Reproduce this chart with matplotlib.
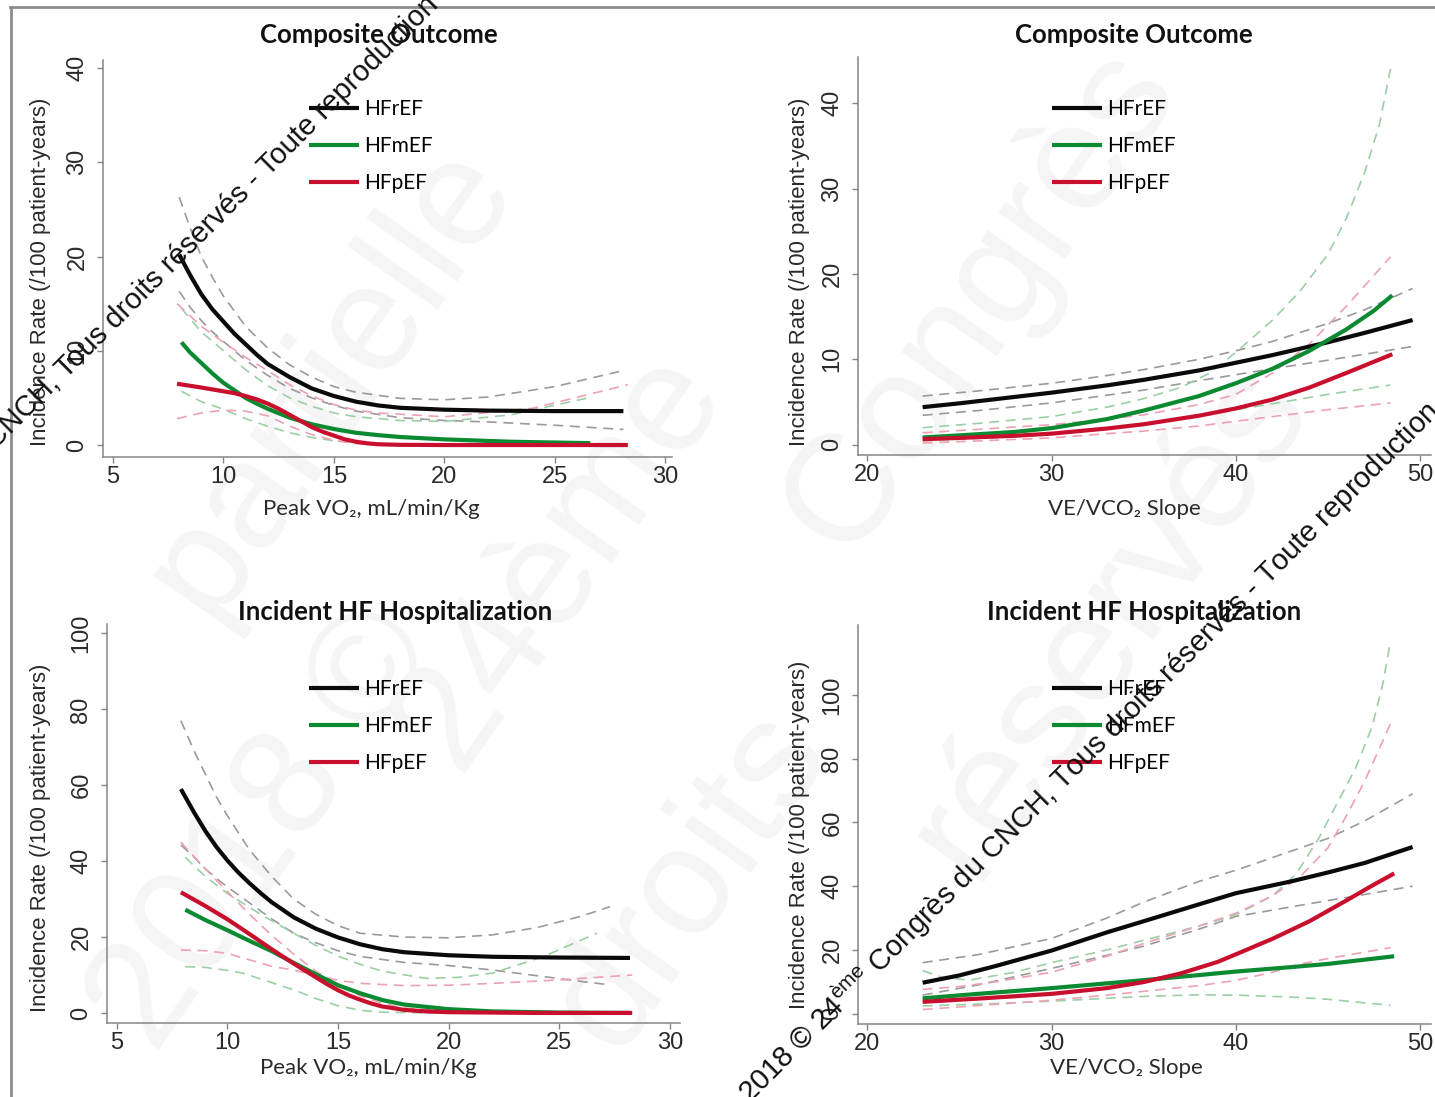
import matplotlib
matplotlib.use("Agg")
import matplotlib.pyplot as plt
from matplotlib.lines import Line2D

plt.rcParams['mathtext.fontset'] = 'custom'
plt.rcParams['mathtext.rm'] = 'Liberation Sans'

# ---- data ----
groups = ["HFrEF", "HFmEF", "HFpEF"]

# panel 1 : composite outcome vs peak VO2
p1_ref_x = [8.0, 8.5, 9, 9.5, 10, 10.5, 11, 11.5, 12, 13, 14, 15, 16, 17, 18, 20, 22, 25, 28.1]
p1_ref_y = [20.2, 18.0, 16.0, 14.4, 13.1, 11.8, 10.7, 9.6, 8.6, 7.2, 6.0, 5.2, 4.6, 4.2, 3.95, 3.75, 3.65, 3.6, 3.6]
p1_mid_x = [8.1, 8.5, 9, 9.5, 10, 10.5, 11, 11.5, 12, 13, 14, 15, 16, 17, 18, 20, 23, 26.6]
p1_mid_y = [10.9, 9.8, 8.7, 7.6, 6.6, 5.8, 5.0, 4.4, 3.85, 2.9, 2.2, 1.7, 1.3, 1.05, 0.85, 0.6, 0.35, 0.2]
p1_pef_x = [7.9, 9, 10, 10.5, 11, 11.5, 12, 12.5, 13, 13.5, 14, 14.5, 15, 15.5, 16, 16.5, 17, 18, 20, 28.3]
p1_pef_y = [6.5, 6.1, 5.7, 5.5, 5.2, 4.85, 4.4, 3.85, 3.2, 2.55, 1.9, 1.4, 1.0, 0.6, 0.35, 0.18, 0.08, 0.02, 0.0, 0.0]

p1_ref_ci_x = [8.0, 8.5, 9, 9.5, 10, 11, 12, 13, 14, 15, 16, 18, 20, 22, 25, 28.1]
p1_ref_hi = [26.3, 23.0, 20.0, 17.8, 15.8, 12.6, 10.3, 8.5, 7.2, 6.2, 5.6, 4.95, 4.8, 5.1, 6.2, 7.9]
p1_ref_lo = [16.3, 14.6, 13.2, 12.0, 11.0, 9.0, 7.4, 6.0, 5.0, 4.2, 3.6, 2.9, 2.6, 2.45, 2.1, 1.65]
p1_mid_ci_x = [8.1, 9, 10, 11, 12, 13, 14, 15, 16, 18, 20, 23, 26.7]
p1_mid_hi = [14.5, 12.0, 10.0, 8.0, 6.3, 5.0, 4.1, 3.4, 3.0, 2.6, 2.5, 3.2, 5.1]
p1_mid_lo = [5.7, 4.6, 3.8, 2.8, 2.0, 1.3, 0.8, 0.45, 0.25, 0.1, 0.05, 0.0, 0.0]
p1_pef_ci_x = [7.9, 9, 10, 11, 12, 13, 14, 15, 16, 17, 20, 24, 28.3]
p1_pef_hi = [15.0, 12.6, 10.9, 9.3, 7.9, 6.4, 5.2, 4.3, 3.7, 3.4, 3.0, 3.9, 6.4]
p1_pef_lo = [2.8, 3.4, 3.7, 3.6, 3.1, 2.0, 1.1, 0.5, 0.15, 0.0, 0.0, 0.0, 0.0]

# panel 2 : composite outcome vs VE/VCO2 slope
p2_ref_x = [23, 25, 28, 30, 33, 35, 38, 40, 42, 45, 47, 49.6]
p2_ref_y = [4.4, 4.85, 5.6, 6.1, 6.95, 7.6, 8.7, 9.6, 10.5, 12.0, 13.1, 14.6]
p2_mid_x = [23, 25, 28, 30, 33, 35, 38, 40, 42, 44, 46, 47.5, 48.5]
p2_mid_y = [0.85, 1.1, 1.5, 1.95, 3.0, 4.0, 5.7, 7.2, 8.9, 11.0, 13.5, 15.7, 17.5]
p2_pef_x = [23, 25, 28, 30, 33, 35, 38, 40, 42, 44, 46, 48.5]
p2_pef_y = [0.65, 0.8, 1.05, 1.3, 1.9, 2.4, 3.4, 4.25, 5.3, 6.7, 8.4, 10.6]

p2_ref_ci_x = [23, 26, 30, 33, 35, 38, 40, 42, 45, 47, 49.6]
p2_ref_hi = [5.7, 6.3, 7.2, 8.1, 8.8, 10.0, 11.0, 12.1, 14.2, 15.8, 18.3]
p2_ref_lo = [3.45, 4.0, 4.9, 5.8, 6.4, 7.5, 8.2, 8.9, 9.9, 10.6, 11.5]
p2_mid_hi_x = [23, 26, 30, 33, 35, 37, 38.5, 40, 42, 43.5, 45, 46, 47, 47.8, 48.4]
p2_mid_hi = [2.0, 2.5, 3.3, 4.4, 5.4, 6.7, 8.3, 10.8, 14.6, 18.0, 22.3, 26.5, 31.9, 37.5, 44.0]
p2_mid_lo_x = [23, 26, 30, 33, 35, 38, 40, 42, 45, 48.4]
p2_mid_lo = [0.45, 0.75, 1.2, 1.9, 2.4, 3.4, 4.1, 4.8, 5.9, 7.0]
p2_pef_hi_x = [23, 26, 30, 33, 35, 38, 40, 42, 44, 46, 48.4]
p2_pef_hi = [1.4, 1.8, 2.35, 3.0, 3.5, 4.7, 5.9, 8.4, 11.8, 16.2, 22.0]
p2_pef_lo_x = [23, 26, 30, 33, 35, 38, 40, 42, 45, 48.4]
p2_pef_lo = [0.2, 0.45, 0.8, 1.3, 1.6, 2.2, 2.75, 3.3, 4.1, 4.9]

# panel 3 : HF hospitalization vs peak VO2
p3_ref_x = [7.9, 8.5, 9, 9.5, 10, 10.5, 11, 11.5, 12, 13, 14, 15, 16, 17, 18, 20, 22, 25, 28.2]
p3_ref_y = [59.0, 52.8, 48.0, 43.8, 40.2, 37.0, 34.2, 31.6, 29.2, 25.2, 22.2, 19.9, 18.1, 16.8, 16.0, 15.2, 14.8, 14.6, 14.5]
p3_mid_x = [8.1, 9, 10, 11, 12, 13, 14, 15, 16, 17, 18, 20, 22, 25, 28.2]
p3_mid_y = [27.2, 24.5, 21.8, 19.0, 16.3, 13.2, 10.2, 7.3, 5.2, 3.4, 2.2, 1.0, 0.4, 0.1, 0.0]
p3_pef_x = [7.9, 9, 10, 11, 12, 13, 14, 14.5, 15, 15.5, 16, 16.5, 17, 18, 19, 20, 24, 28.3]
p3_pef_y = [31.8, 28.2, 24.7, 20.8, 16.8, 13.0, 9.4, 7.6, 6.0, 4.6, 3.5, 2.5, 1.7, 0.8, 0.4, 0.2, 0.0, 0.0]

p3_ref_ci_x = [7.9, 8.5, 9, 9.5, 10, 11, 12, 13, 14, 15, 16, 18, 20, 22, 24, 26, 27.3]
p3_ref_hi = [77, 69, 63, 57, 52, 43, 36, 30, 26, 23, 21, 20, 19.8, 20.6, 22.5, 25.5, 28.0]
p3_ref_lo = [44.3, 41.0, 38.0, 35.5, 33.2, 29.0, 24.8, 21.0, 18.5, 16.4, 14.9, 13.3, 12.5, 11.3, 9.8, 8.3, 7.4]
p3_mid_hi_x = [8.1, 9, 10, 11, 12, 13, 14, 15, 16, 17, 19, 20.5, 22, 24.3, 26.7]
p3_mid_hi = [41.0, 36.0, 31.5, 27.8, 24.3, 21.0, 17.8, 15.0, 12.8, 11.0, 9.1, 9.4, 10.5, 14.9, 21.0]
p3_mid_lo_x = [8.1, 9, 10, 10.7, 12, 13, 14, 15, 16, 17, 19, 26.7]
p3_mid_lo = [12.2, 12.0, 11.2, 10.5, 8.0, 6.1, 3.8, 1.9, 0.7, 0.2, 0.0, 0.0]
p3_pef_a_x = [7.9, 9, 10, 11, 12, 13, 14, 15, 16, 18, 20, 22, 25, 28.3]
p3_pef_a = [16.6, 16.4, 15.7, 14.0, 12.3, 11.3, 9.9, 8.6, 7.8, 7.2, 7.3, 7.8, 8.7, 10.0]
p3_pef_b_x = [7.9, 9, 10, 11, 12, 13, 14, 15, 16, 17, 18, 20, 24, 28.3]
p3_pef_b = [45, 38, 32, 26, 20.5, 15.5, 11, 7.5, 4.5, 2.5, 1.3, 0.5, 0.1, 0.0]

# panel 4 : HF hospitalization vs VE/VCO2 slope
p4_ref_x = [23, 25, 27, 30, 33, 35, 38, 40, 43, 45, 47, 49.6]
p4_ref_y = [9.7, 12.0, 15.0, 19.8, 25.5, 29.0, 34.3, 37.8, 41.5, 44.3, 47.3, 52.3]
p4_mid_x = [23, 26, 30, 33, 35, 38, 40, 43, 45, 48.6]
p4_mid_y = [4.8, 6.2, 8.0, 9.5, 10.5, 12.1, 13.2, 14.6, 15.6, 18.0]
p4_pef_x = [23, 26, 30, 33, 35, 37, 39, 40, 42, 44, 46, 47.5, 48.6]
p4_pef_y = [3.7, 4.7, 6.2, 8.0, 9.9, 12.6, 16.2, 18.6, 23.5, 29.0, 35.5, 40.5, 44.0]

p4_ref_ci_x = [23, 26, 30, 33, 35, 38, 40, 43, 45, 47, 49.6]
p4_ref_hi = [16.0, 18.5, 23.6, 30.0, 35.0, 41.5, 45.0, 51.0, 55.0, 60.5, 69.0]
p4_ref_lo = [5.8, 9.0, 14.2, 18.3, 21.2, 26.5, 30.5, 33.5, 35.5, 37.4, 40.0]
p4_mid_hi_x = [23, 24, 25.5, 28, 30, 33, 35, 38, 40, 42, 43.3, 44.5, 45.5, 46.5, 47.4, 48.0, 48.4]
p4_mid_hi = [13.5, 11.5, 10.5, 13.0, 16.0, 20.0, 23.0, 27.5, 31.0, 37.0, 44.0, 55.0, 66.0, 77.0, 90.0, 104.0, 117.0]
p4_mid_lo_x = [23, 27, 30, 33, 35, 38, 40, 43, 45, 48.4]
p4_mid_lo = [2.4, 3.2, 3.9, 4.8, 5.4, 5.9, 5.8, 5.2, 4.5, 2.6]
p4_pef_hi_x = [23, 25, 27, 30, 33, 35, 38, 40, 42, 43.5, 45, 46, 47, 48.4]
p4_pef_hi = [7.6, 8.5, 10.0, 13.0, 18.0, 22.0, 27.5, 31.5, 37.0, 43.0, 52.0, 62.0, 73.0, 91.0]
p4_pef_lo_x = [23, 26, 30, 33, 35, 38, 40, 42, 43.3, 45, 48.4]
p4_pef_lo = [1.3, 2.5, 4.2, 5.8, 7.0, 8.8, 10.4, 13.0, 15.3, 17.3, 20.7]

titles = ["Composite Outcome", "Composite Outcome",
          "Incident HF Hospitalization", "Incident HF Hospitalization"]
xlabels = ["Peak VO\u2082, mL/min/Kg", "VE/VCO\u2082 Slope",
           "Peak VO\u2082, mL/min/Kg", "VE/VCO\u2082 Slope"]
ylabel = "Incidence Rate (/100 patient-years)"
vo2_ticks = [5, 10, 15, 20, 25, 30]
slope_ticks = [20, 30, 40, 50]
comp_yticks = [0, 10, 20, 30, 40]
hosp_yticks = [0, 20, 40, 60, 80, 100]

# ---- styling ----
W, H = 1435, 1097
main_col = ["#0a0a0a", "#0b8a32", "#c8102e"]
ci_col = ["#9a9a9a", "#9ccfa6", "#eea1b3"]
spine_col = "#858585"
tick_font = "Liberation Sans"
calib = ["Lato", "DejaVu Sans"]

fig = plt.figure(figsize=(W / 100, H / 100), dpi=100)

# pixel boxes: left, top, right, bottom
boxes = [(103, 60, 672, 457), (858, 57, 1431, 455),
         (107, 624, 680, 1023), (858, 625, 1431, 1024)]
xlims = [(4.55, 30.3), (19.49, 50.6), (4.56, 30.46), (19.49, 50.6)]
ylims = [(-1.27, 40.85), (-1.2, 45.4), (-2.65, 102.5), (-3.26, 122)]
title_pos = [(379, 35), (1134, 35), (395, 612), (1144, 612)]
xlab_pos = [(371, 509), (1124, 509), (368, 1068), (1126, 1068)]
ylab_pos = [(41, 272), (800, 272), (41, 838), (800, 835)]
leg_pos = [(309, 99), (1052, 99), (309, 679), (1052, 679)]

mains = [
    [(p1_ref_x, p1_ref_y), (p1_mid_x, p1_mid_y), (p1_pef_x, p1_pef_y)],
    [(p2_ref_x, p2_ref_y), (p2_mid_x, p2_mid_y), (p2_pef_x, p2_pef_y)],
    [(p3_ref_x, p3_ref_y), (p3_mid_x, p3_mid_y), (p3_pef_x, p3_pef_y)],
    [(p4_ref_x, p4_ref_y), (p4_mid_x, p4_mid_y), (p4_pef_x, p4_pef_y)],
]
bands = [
    [(p1_ref_ci_x, p1_ref_hi, 0), (p1_ref_ci_x, p1_ref_lo, 0),
     (p1_mid_ci_x, p1_mid_hi, 1), (p1_mid_ci_x, p1_mid_lo, 1),
     (p1_pef_ci_x, p1_pef_hi, 2), (p1_pef_ci_x, p1_pef_lo, 2)],
    [(p2_ref_ci_x, p2_ref_hi, 0), (p2_ref_ci_x, p2_ref_lo, 0),
     (p2_mid_hi_x, p2_mid_hi, 1), (p2_mid_lo_x, p2_mid_lo, 1),
     (p2_pef_hi_x, p2_pef_hi, 2), (p2_pef_lo_x, p2_pef_lo, 2)],
    [(p3_ref_ci_x, p3_ref_hi, 0), (p3_ref_ci_x, p3_ref_lo, 0),
     (p3_mid_hi_x, p3_mid_hi, 1), (p3_mid_lo_x, p3_mid_lo, 1),
     (p3_pef_a_x, p3_pef_a, 2), (p3_pef_b_x, p3_pef_b, 2)],
    [(p4_ref_ci_x, p4_ref_hi, 0), (p4_ref_ci_x, p4_ref_lo, 0),
     (p4_mid_hi_x, p4_mid_hi, 1), (p4_mid_lo_x, p4_mid_lo, 1),
     (p4_pef_hi_x, p4_pef_hi, 2), (p4_pef_lo_x, p4_pef_lo, 2)],
]

# faint background watermark (very light, behind everything)
faint = [("partielle", 330, 380), ("Congrès", 980, 300),
         ("réservés", 1110, 620), ("24ème", 560, 560),
         ("droits", 690, 880), ("2018 ©", 265, 830)]
for word, px, py in faint:
    fig.text(px / W, 1 - py / H, word, fontsize=110, color="#f5f5f5",
             rotation=55, ha="center", va="center", family="Liberation Sans",
             zorder=-5)

for i in range(4):
    l, t, r, b = boxes[i]
    ax = fig.add_axes([l / W, 1 - b / H, (r - l) / W, (b - t) / H])
    ax.set_facecolor("none")

    def fx(px, l=l, r=r):
        return (px - l) / (r - l)

    def fy(py, t=t, b=b):
        return (b - py) / (b - t)

    for xs, ys, c in bands[i]:
        ax.plot(xs, ys, color=ci_col[c], lw=1.2, dashes=(6, 4), zorder=2)
    handles = []
    for k, (xs, ys) in enumerate(mains[i]):
        ln, = ax.plot(xs, ys, color=main_col[k], lw=3.0, zorder=3,
                      solid_capstyle="butt", solid_joinstyle="round")
        handles.append(ln)

    ax.set_xlim(*xlims[i])
    ax.set_ylim(*ylims[i])
    ax.set_xticks(vo2_ticks if i % 2 == 0 else slope_ticks)
    ax.set_yticks(comp_yticks if i < 2 else hosp_yticks)
    for s in ["top", "right"]:
        ax.spines[s].set_visible(False)
    for s in ["left", "bottom"]:
        ax.spines[s].set_color(spine_col)
        ax.spines[s].set_linewidth(1.1)
    ax.tick_params(axis="both", direction="out", length=4.5, width=1.0,
                   color=spine_col, labelcolor="#2a2a2a", labelsize=17)
    ax.tick_params(axis="y", pad=6)
    ax.tick_params(axis="x", pad=2)
    for lab in ax.get_xticklabels() + ax.get_yticklabels():
        lab.set_family(tick_font)
    for lab in ax.get_yticklabels():
        lab.set_rotation(90)
        lab.set_va("center")

    ax.set_xlabel(xlabels[i], family=calib, fontsize=16, color="#2a2a2a",
                  va="center", ha="center")
    ax.xaxis.set_label_coords(fx(xlab_pos[i][0]), fy(xlab_pos[i][1]))
    ax.set_ylabel(ylabel, family=tick_font, fontsize=16, color="#2a2a2a",
                  va="center", ha="center")
    ax.yaxis.set_label_coords(fx(ylab_pos[i][0]), fy(ylab_pos[i][1]))

    fig.text(title_pos[i][0] / W, 1 - title_pos[i][1] / H, titles[i],
             family=calib, fontweight="bold", fontsize=18.5, color="#111111",
             ha="center", va="center")

    ax.legend(handles, groups, loc="upper left",
              bbox_to_anchor=(fx(leg_pos[i][0]), fy(leg_pos[i][1])),
              frameon=False, borderpad=0, borderaxespad=0,
              handlelength=2.4, handletextpad=0.25, labelspacing=0.82,
              prop={"family": calib, "size": 15})

# outer frame of the slide
fig.add_artist(Line2D([10 / W, 1], [1 - 7 / H, 1 - 7 / H], color="#8c8c8c",
                      lw=2.0))
fig.add_artist(Line2D([11 / W, 11 / W], [0, 1 - 7 / H], color="#8c8c8c",
                      lw=2.0))

# black copyright overlay text
fig.text(-4 / W, 1 - 450 / H,
         "CNCH, Tous droits réservés - Toute reproduction",
         fontsize=21, rotation=45, rotation_mode="anchor", ha="left",
         va="baseline", family="Liberation Sans", color="#111111", zorder=10)
fig.text(750 / W, 1 - 1104 / H,
         r"2018 © 24$^{\mathrm{ème}}$ Congrès du CNCH, Tous droits réservés - Toute reproduction",
         fontsize=21, rotation=45, rotation_mode="anchor", ha="left",
         va="baseline", family="Liberation Sans", color="#111111", zorder=10)

fig.savefig("out.png", dpi=100)
